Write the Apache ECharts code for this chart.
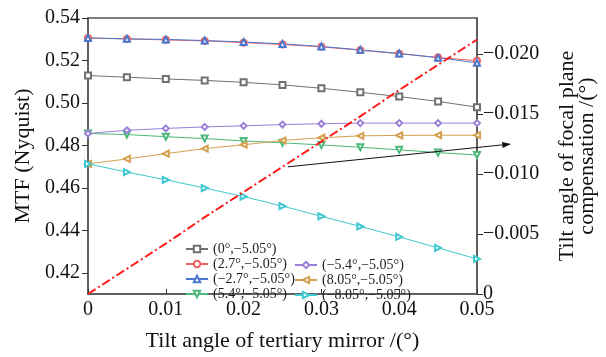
<!DOCTYPE html>
<html>
<head>
<meta charset="utf-8">
<script src="https://cdn.jsdelivr.net/npm/echarts@6/dist/echarts.min.js"></script>
<style>
  html, body { margin: 0; padding: 0; background: #fff; }
  #chart { width: 606px; height: 357px; }
</style>
</head>
<body>
<div id="chart"></div>
<script>
// tilt angle of tertiary mirror (deg)
var tilt = [0, 0.005, 0.01, 0.015, 0.02, 0.025, 0.03, 0.035, 0.04, 0.045, 0.05];

// MTF at Nyquist for each field
var mtf0 = [0.5129, 0.5121, 0.5113, 0.5106, 0.5097, 0.5085, 0.5069, 0.5050, 0.5030, 0.5007, 0.4980];
var mtfP27 = [0.5306, 0.5301, 0.5297, 0.5292, 0.5284, 0.5275, 0.5264, 0.5248, 0.5232, 0.5214, 0.5199];
var mtfM27 = [0.5306, 0.5302, 0.5299, 0.5294, 0.5287, 0.5278, 0.5266, 0.5250, 0.5233, 0.5213, 0.5189];
var mtfP54 = [0.4856, 0.4851, 0.4841, 0.4832, 0.4821, 0.4812, 0.4802, 0.4791, 0.4779, 0.4766, 0.4755];
var mtfM54 = [0.4856, 0.4871, 0.4880, 0.4887, 0.4892, 0.4898, 0.4902, 0.4905, 0.4905, 0.4905, 0.4905];
var mtfP805 = [0.4713, 0.4736, 0.4761, 0.4785, 0.4803, 0.4823, 0.4836, 0.4845, 0.4847, 0.4848, 0.4848];
var mtfM805 = [0.4713, 0.4674, 0.4638, 0.4599, 0.4559, 0.4514, 0.4466, 0.4418, 0.4369, 0.4317, 0.4265];

// focal plane compensation tilt (deg)
var compensation = [0, -0.0021, -0.0042, -0.0064, -0.0085, -0.0106, -0.0127, -0.0148, -0.0170, -0.0191, -0.0212];

var names = ['(0°,−5.05°)', '(2.7°,−5.05°)', '(−2.7°,−5.05°)', '(5.4°,−5.05°)',
             '(−5.4°,−5.05°)', '(8.05°,−5.05°)', '(−8.05°,−5.05°)'];
var colors = ['#707070', '#f06262', '#4a78d0', '#4cb87a', '#9a80d8', '#d4a050', '#40c8d0'];
var symbols = ['emptyRect', 'emptyCircle', 'emptyTriangle', 'emptyTriangle', 'emptyDiamond', 'emptyTriangle', 'emptyTriangle'];
var rotates = [0, 0, 0, 180, 0, 90, -90];
var mtfData = [mtf0, mtfP27, mtfM27, mtfP54, mtfM54, mtfP805, mtfM805];

var xTicks = [0, 0.01, 0.02, 0.03, 0.04, 0.05];
var leftTicks = [0.42, 0.44, 0.46, 0.48, 0.50, 0.52, 0.54];
var rightTicks = [0, -0.005, -0.010, -0.015, -0.020];

// arrow pointing from the compensation line to the right axis (data coords, right axis)
var arrowFrom = [0.0257, -0.0106];
var arrowTo = [0.0544, -0.0125];

var font = 'Liberation Serif';

function pairs(xs, ys) {
    return xs.map(function (x, i) { return [x, ys[i]]; });
}

var series = mtfData.map(function (d, i) {
    return {
        name: names[i],
        type: 'line',
        yAxisIndex: 0,
        data: pairs(tilt, d),
        symbol: symbols[i],
        symbolSize: 6,
        symbolRotate: rotates[i],
        lineStyle: { width: 1, color: colors[i] },
        itemStyle: { color: colors[i] },
        color: colors[i],
        z: 3
    };
});

series.push({
    name: 'compensation',
    type: 'line',
    yAxisIndex: 1,
    data: pairs(tilt, compensation),
    showSymbol: false,
    symbol: 'none',
    lineStyle: { width: 2, color: '#ff1a1a', type: [9, 3, 2, 3] },
    z: 4
});

var chart = echarts.init(document.getElementById('chart'));
chart.setOption({
    backgroundColor: '#fff',
    animation: false,
    textStyle: { fontFamily: font },
    grid: {
        left: 88, right: 121, top: 18, bottom: 50,
        show: true, borderColor: '#555', borderWidth: 1.5, backgroundColor: 'transparent'
    },
    legend: [{
        orient: 'vertical',
        left: 180, top: 237,
        itemWidth: 22, itemHeight: 8, itemGap: 1,
        textStyle: { fontFamily: font, fontSize: 14, color: '#222' },
        data: names.slice(0, 4)
    }, {
        orient: 'vertical',
        left: 289, top: 253,
        itemWidth: 22, itemHeight: 8, itemGap: 1,
        textStyle: { fontFamily: font, fontSize: 14, color: '#222' },
        data: names.slice(4)
    }],
    xAxis: {
        type: 'value',
        min: 0, max: 0.05,
        name: 'Tilt angle of tertiary mirror /(°)',
        nameLocation: 'middle',
        nameGap: 36,
        nameTextStyle: { fontFamily: font, fontSize: 22, color: '#111' },
        axisLine: { show: true, lineStyle: { color: '#555', width: 1.5 } },
        axisTick: { show: true, inside: true, length: 5, customValues: xTicks, lineStyle: { color: '#333' } },
        axisLabel: {
            customValues: xTicks, margin: 6,
            fontFamily: font, fontSize: 20, color: '#111',
            formatter: function (v) { return v === 0 ? '0' : v.toFixed(2); }
        },
        splitLine: { show: false }
    },
    yAxis: [{
        type: 'value',
        min: 0.41, max: 0.54,
        position: 'left',
        name: 'MTF (Nyquist)',
        nameLocation: 'middle',
        nameGap: 50,
        nameTextStyle: { fontFamily: font, fontSize: 22, color: '#111' },
        axisLine: { show: true, lineStyle: { color: '#555', width: 1.5 } },
        axisTick: { show: true, inside: false, length: 6, customValues: leftTicks, lineStyle: { color: '#333' } },
        axisLabel: {
            customValues: leftTicks, margin: 8,
            fontFamily: font, fontSize: 20, color: '#111',
            formatter: function (v) { return v.toFixed(2); }
        },
        splitLine: { show: false }
    }, {
        type: 'value',
        min: -0.023, max: 0,
        inverse: true,
        position: 'right',
        name: 'Tilt angle of focal plane\ncompensation /(°)',
        nameLocation: 'middle',
        nameGap: 80,
        nameRotate: 90,
        nameTextStyle: { fontFamily: font, fontSize: 22, color: '#111', lineHeight: 20 },
        axisLine: { show: true, lineStyle: { color: '#555', width: 1.5 } },
        axisTick: { show: true, inside: false, length: 6, customValues: rightTicks, lineStyle: { color: '#333' } },
        axisLabel: {
            customValues: rightTicks, margin: 6,
            fontFamily: font, fontSize: 20, color: '#111',
            formatter: function (v) { return v === 0 ? '0' : v.toFixed(3).replace('-', '−'); }
        },
        splitLine: { show: false }
    }],
    series: series
});

// arrow annotation, placed through the axes
var p0 = chart.convertToPixel({ xAxisIndex: 0, yAxisIndex: 1 }, arrowFrom);
var p1 = chart.convertToPixel({ xAxisIndex: 0, yAxisIndex: 1 }, arrowTo);
var ang = Math.atan2(p1[1] - p0[1], p1[0] - p0[0]);
var headLen = 9, headHalf = 3;
var bx = p1[0] - headLen * Math.cos(ang), by = p1[1] - headLen * Math.sin(ang);
chart.setOption({
    graphic: [{
        type: 'line',
        silent: true,
        z: 10,
        shape: { x1: p0[0], y1: p0[1], x2: bx, y2: by },
        style: { stroke: '#111', lineWidth: 1 }
    }, {
        type: 'polygon',
        silent: true,
        z: 10,
        shape: {
            points: [
                [p1[0], p1[1]],
                [bx + headHalf * Math.sin(ang), by - headHalf * Math.cos(ang)],
                [bx - headHalf * Math.sin(ang), by + headHalf * Math.cos(ang)]
            ]
        },
        style: { fill: '#111' }
    }]
});
</script>
</body>
</html>
